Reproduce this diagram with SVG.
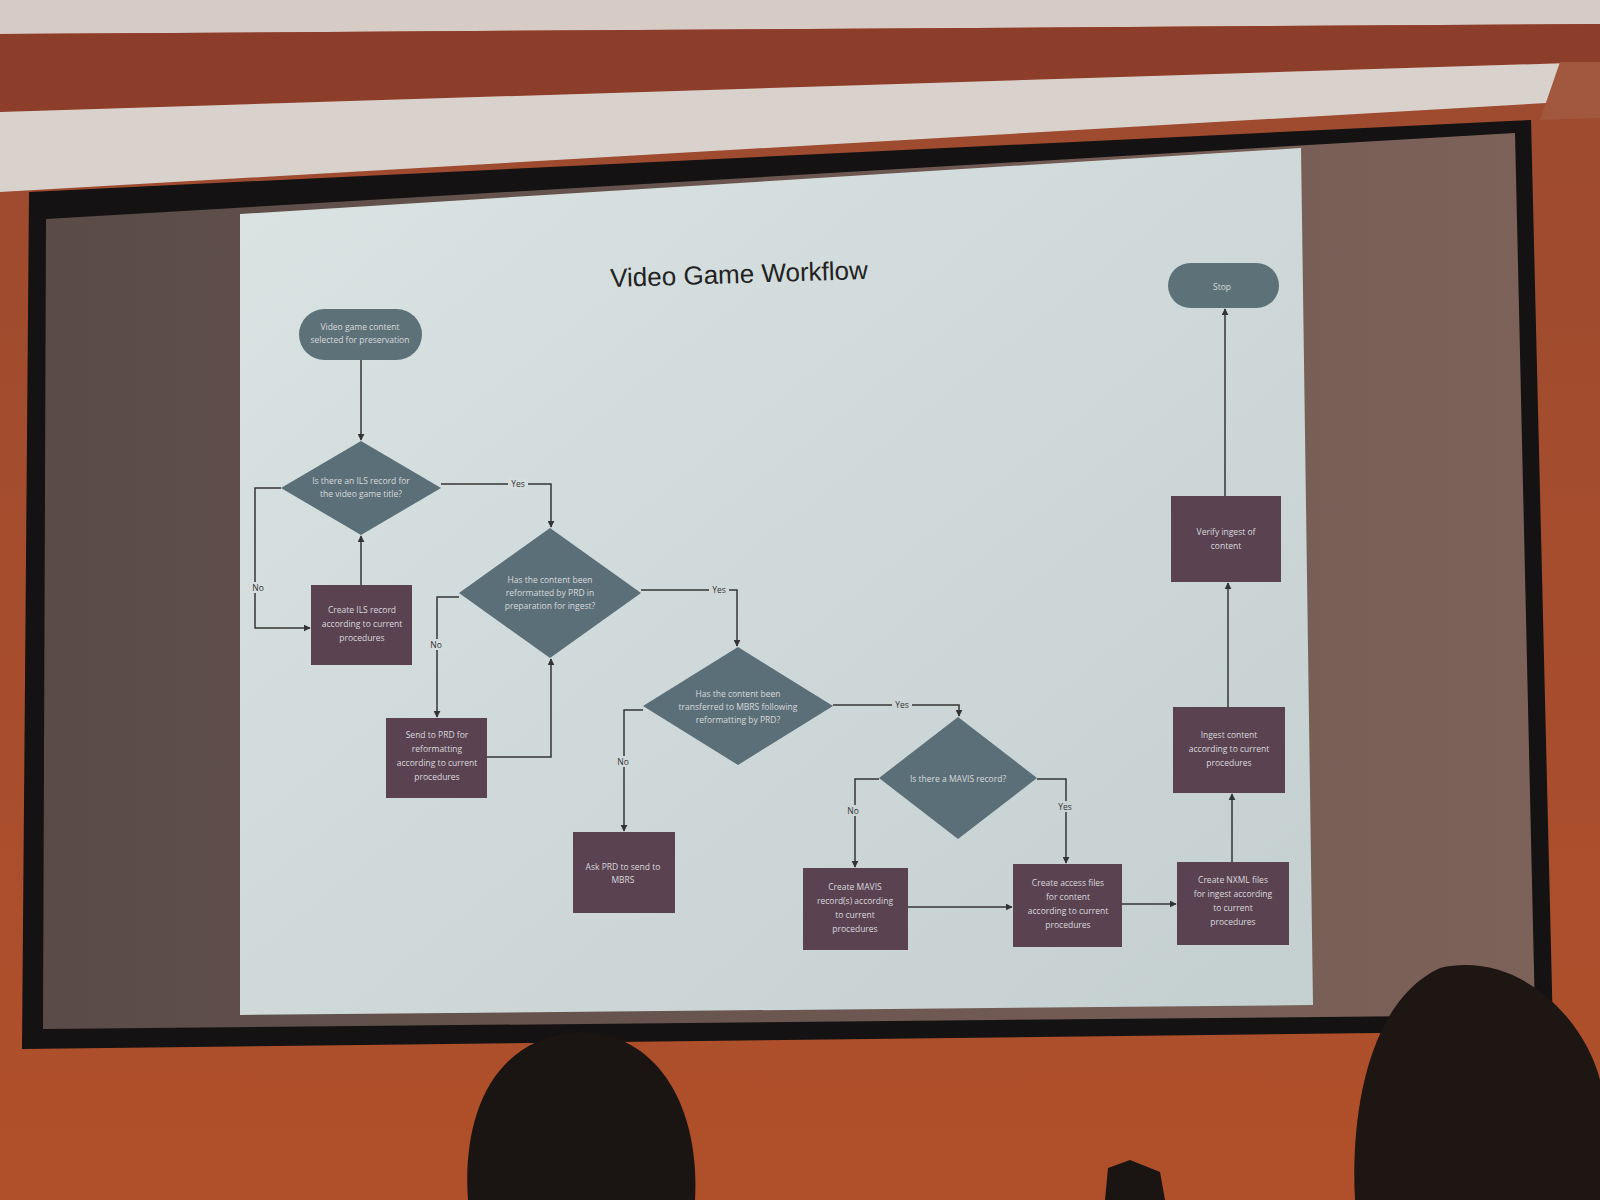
<svg xmlns="http://www.w3.org/2000/svg" width="1600" height="1200" viewBox="0 0 1600 1200">
<defs>
<linearGradient id="scr" x1="0" y1="0" x2="1" y2="0">
<stop offset="0" stop-color="#5a4b47"/><stop offset="1" stop-color="#7d6259"/>
</linearGradient>
<linearGradient id="sld" x1="0" y1="0" x2="1" y2="1">
<stop offset="0" stop-color="#dbe3e3"/><stop offset="1" stop-color="#c4cfcf"/>
</linearGradient>
<linearGradient id="wall" x1="0" y1="0" x2="0" y2="1">
<stop offset="0" stop-color="#9c4a30"/><stop offset="1" stop-color="#b0502a"/>
</linearGradient>
<marker id="ah" viewBox="0 0 10 10" refX="9" refY="5" markerWidth="7" markerHeight="7" orient="auto" markerUnits="userSpaceOnUse">
<path d="M0,0 L10,5 L0,10 z" fill="#333"/>
</marker>
</defs>
<style>
.term{fill:#5d7179;}
.dec{fill:#5b6f78;}
.box{fill:#5a4251;}
.t{font-family:"Open Sans","Liberation Sans",sans-serif;font-size:8.5px;fill:#d9d9dc;text-anchor:middle;}
.lbl{font-family:"Open Sans","Liberation Sans",sans-serif;font-size:8.5px;fill:#333;text-anchor:middle;}
.c{fill:none;stroke:#363636;stroke-width:1.5;marker-end:url(#ah);}
.title{font-family:"Liberation Sans","Arial",sans-serif;font-size:26px;fill:#222;text-anchor:middle;}
</style>
<!-- room -->
<rect x="0" y="0" width="1600" height="1200" fill="url(#wall)"/>
<polygon points="0,0 1600,0 1600,24 0,34" fill="#d7cbc5"/>
<polygon points="0,34 1600,24 1600,62 0,112" fill="#8d3e2b"/>
<polygon points="0,112 1600,62 1600,100 0,192" fill="#d8d1cc"/>
<polygon points="1560,62 1600,62 1600,118 1540,120" fill="#a2573f"/>
<polygon points="29,192 1531,120 1553,1031 22,1049" fill="#141212"/>
<polygon points="46,219 1515,133 1535,1015 43,1029" fill="url(#scr)"/>
<polygon points="240,214 1301,148 1313,1005 240,1015" fill="url(#sld)"/>
<!-- title -->
<text class="title" x="739" y="283" transform="rotate(-1.8 739 274)">Video Game Workflow</text>
<!-- connectors -->
<g id="connectors">
<path class="c" d="M361,359 L361,440"/>
<path class="c" d="M281,488 L255,488 L255,628 L310,628"/>
<path class="c" d="M361,585 L361,536"/>
<path class="c" d="M441,484 L551,484 L551,527"/>
<path class="c" d="M459,597 L437,597 L437,717"/>
<path class="c" d="M487,757 L551,757 L551,659"/>
<path class="c" d="M641,590 L737,590 L737,646"/>
<path class="c" d="M643,710 L624,710 L624,831"/>
<path class="c" d="M833,705 L959,705 L959,716"/>
<path class="c" d="M879,779 L855,779 L855,867"/>
<path class="c" d="M1037,779 L1066,779 L1066,863"/>
<path class="c" d="M908,907 L1012,907"/>
<path class="c" d="M1122,904 L1176,904"/>
<path class="c" d="M1232,862 L1232,794"/>
<path class="c" d="M1228,707 L1228,583"/>
<path class="c" d="M1225,496 L1225,309"/>
<g>
<rect x="250" y="582" width="16" height="11" fill="#d6dede"/><text class="lbl" x="258" y="591">No</text>
<rect x="508" y="478" width="20" height="11" fill="#d6dede"/><text class="lbl" x="518" y="487">Yes</text>
<rect x="428" y="639" width="16" height="11" fill="#d4dcdc"/><text class="lbl" x="436" y="648">No</text>
<rect x="709" y="584" width="20" height="11" fill="#d0d9d9"/><text class="lbl" x="719" y="593">Yes</text>
<rect x="615" y="756" width="16" height="11" fill="#d0d9d9"/><text class="lbl" x="623" y="765">No</text>
<rect x="892" y="699" width="20" height="11" fill="#cdd6d6"/><text class="lbl" x="902" y="708">Yes</text>
<rect x="845" y="805" width="16" height="11" fill="#cdd6d6"/><text class="lbl" x="853" y="814">No</text>
<rect x="1055" y="801" width="20" height="11" fill="#cad4d4"/><text class="lbl" x="1065" y="810">Yes</text>
</g>
</g>
<!-- nodes -->
<g id="start"><rect class="term" x="299" y="309" width="123" height="51" rx="25.5"/>
<text class="t" x="360" y="330">Video game content</text><text class="t" x="360" y="343">selected for preservation</text></g>
<g id="d1"><polygon class="dec" points="361,441 441,488 361,535 281,488"/>
<text class="t" x="361" y="484">Is there an ILS record for</text><text class="t" x="361" y="497">the video game title?</text></g>
<g id="ils"><rect class="box" x="311" y="585" width="101" height="80"/>
<text class="t" x="362" y="613">Create ILS record</text><text class="t" x="362" y="627">according to current</text><text class="t" x="362" y="641">procedures</text></g>
<g id="d2"><polygon class="dec" points="550,528 641,593 550,658 459,593"/>
<text class="t" x="550" y="583">Has the content been</text><text class="t" x="550" y="596">reformatted by PRD in</text><text class="t" x="550" y="609">preparation for ingest?</text></g>
<g id="sendprd"><rect class="box" x="386" y="718" width="101" height="80"/>
<text class="t" x="437" y="738">Send to PRD for</text><text class="t" x="437" y="752">reformatting</text><text class="t" x="437" y="766">according to current</text><text class="t" x="437" y="780">procedures</text></g>
<g id="d3"><polygon class="dec" points="738,647 833,706 738,765 643,706"/>
<text class="t" x="738" y="697">Has the content been</text><text class="t" x="738" y="710">transferred to MBRS following</text><text class="t" x="738" y="723">reformatting by PRD?</text></g>
<g id="askprd"><rect class="box" x="573" y="832" width="102" height="81"/>
<text class="t" x="623" y="870">Ask PRD to send to</text><text class="t" x="623" y="883">MBRS</text></g>
<g id="d4"><polygon class="dec" points="958,717 1037,778 958,839 879,778"/>
<text class="t" x="958" y="782">Is there a MAVIS record?</text></g>
<g id="mavis"><rect class="box" x="803" y="868" width="105" height="82"/>
<text class="t" x="855" y="890">Create MAVIS</text><text class="t" x="855" y="904">record(s) according</text><text class="t" x="855" y="918">to current</text><text class="t" x="855" y="932">procedures</text></g>
<g id="access"><rect class="box" x="1013" y="864" width="109" height="83"/>
<text class="t" x="1068" y="886">Create access files</text><text class="t" x="1068" y="900">for content</text><text class="t" x="1068" y="914">according to current</text><text class="t" x="1068" y="928">procedures</text></g>
<g id="nxml"><rect class="box" x="1177" y="862" width="112" height="83"/>
<text class="t" x="1233" y="883">Create NXML files</text><text class="t" x="1233" y="897">for ingest according</text><text class="t" x="1233" y="911">to current</text><text class="t" x="1233" y="925">procedures</text></g>
<g id="ingest"><rect class="box" x="1173" y="707" width="112" height="86"/>
<text class="t" x="1229" y="738">Ingest content</text><text class="t" x="1229" y="752">according to current</text><text class="t" x="1229" y="766">procedures</text></g>
<g id="verify"><rect class="box" x="1171" y="496" width="110" height="86"/>
<text class="t" x="1226" y="535">Verify ingest of</text><text class="t" x="1226" y="549">content</text></g>
<g id="stop"><rect class="term" x="1168" y="263" width="111" height="45" rx="22.5"/>
<text class="t" x="1222" y="290">Stop</text></g>
<!-- audience silhouettes -->
<path d="M468,1200 C462,1120 490,1040 575,1032 C660,1030 700,1110 695,1200 Z" fill="#1a1412"/>
<path d="M1355,1200 C1350,1110 1370,1000 1440,968 C1520,950 1585,1020 1600,1080 L1600,1200 Z" fill="#1d1613"/>
<path d="M1105,1200 L1108,1168 L1130,1160 L1160,1172 L1165,1200 Z" fill="#1a1412"/>
</svg>
